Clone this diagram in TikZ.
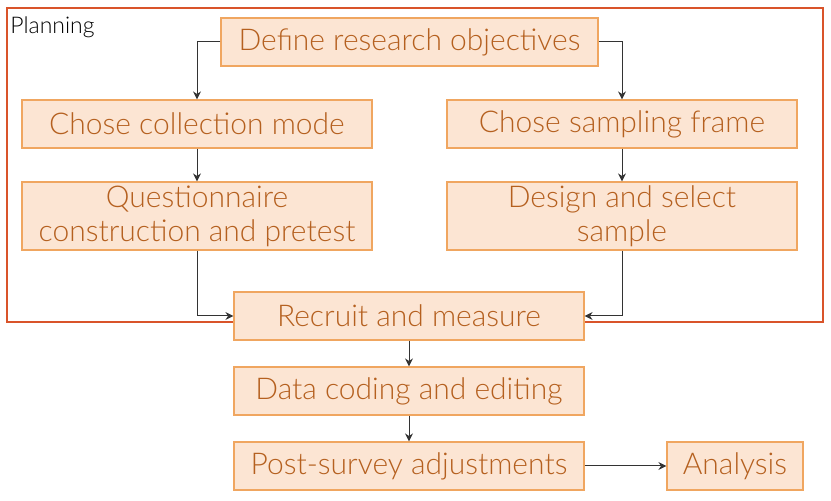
\documentclass[tikz,border=0pt]{standalone}
\usepackage{fontspec}
\setmainfont{Lato}[UprightFont=* Light]
\usetikzlibrary{shadows,arrows.meta}
\definecolor{boxfill}{HTML}{FCE5D3}
\definecolor{boxline}{HTML}{F0A660}
\definecolor{boxtext}{HTML}{B5601F}
\definecolor{frameline}{HTML}{D9542A}
\tikzset{
  stage/.style={draw=boxline,fill=boxfill,text=boxtext,line width=0.6pt,
    minimum width=175pt,minimum height=24pt,inner sep=0pt,align=center,
    font=\fontsize{15}{17}\selectfont,
    drop shadow={shadow xshift=0.6pt,shadow yshift=-0.6pt,fill=black!35,opacity=0.5}},
  link/.style={draw=black!80,line width=0.5pt,-{Stealth[length=4pt,width=4pt]}}
}
\begin{document}
\begin{tikzpicture}[x=0.5pt,y=-0.5pt]
\useasboundingbox (0,0) rectangle (831,501);
\draw[frameline,line width=0.8pt] (7,8) rectangle (823,322);
\node[anchor=north west,inner sep=0pt,font=\fontsize{11.5}{13}\selectfont] (planlbl) at (10,16) {Planning};
\node[stage,minimum width=188.5pt] (define) at (409.5,42) {Define research objectives};
\node[stage] (mode) at (197,124) {Chose collection mode};
\node[stage] (frame) at (622,124) {Chose sampling frame};
\node[stage,minimum height=34pt] (quest) at (197,216) {Questionnaire\\construction and pretest};
\node[stage,minimum height=34pt] (sample) at (622,216) {Design and select\\sample};
\node[stage] (recruit) at (409,316) {Recruit and measure};
\node[stage] (coding) at (409,391) {Data coding and editing};
\node[stage] (adjust) at (409,466) {Post-survey adjustments};
\node[stage,minimum width=68pt] (analysis) at (735,466) {Analysis};
\draw[link] (define.west) -| (mode.north);
\draw[link] (define.east) -| (frame.north);
\draw[link] (mode) -- (quest);
\draw[link] (frame) -- (sample);
\draw[link] (quest.south) |- (recruit.west);
\draw[link] (sample.south) |- (recruit.east);
\draw[link] (recruit) -- (coding);
\draw[link] (coding) -- (adjust);
\draw[link] (adjust) -- (analysis);
\end{tikzpicture}
\end{document}
